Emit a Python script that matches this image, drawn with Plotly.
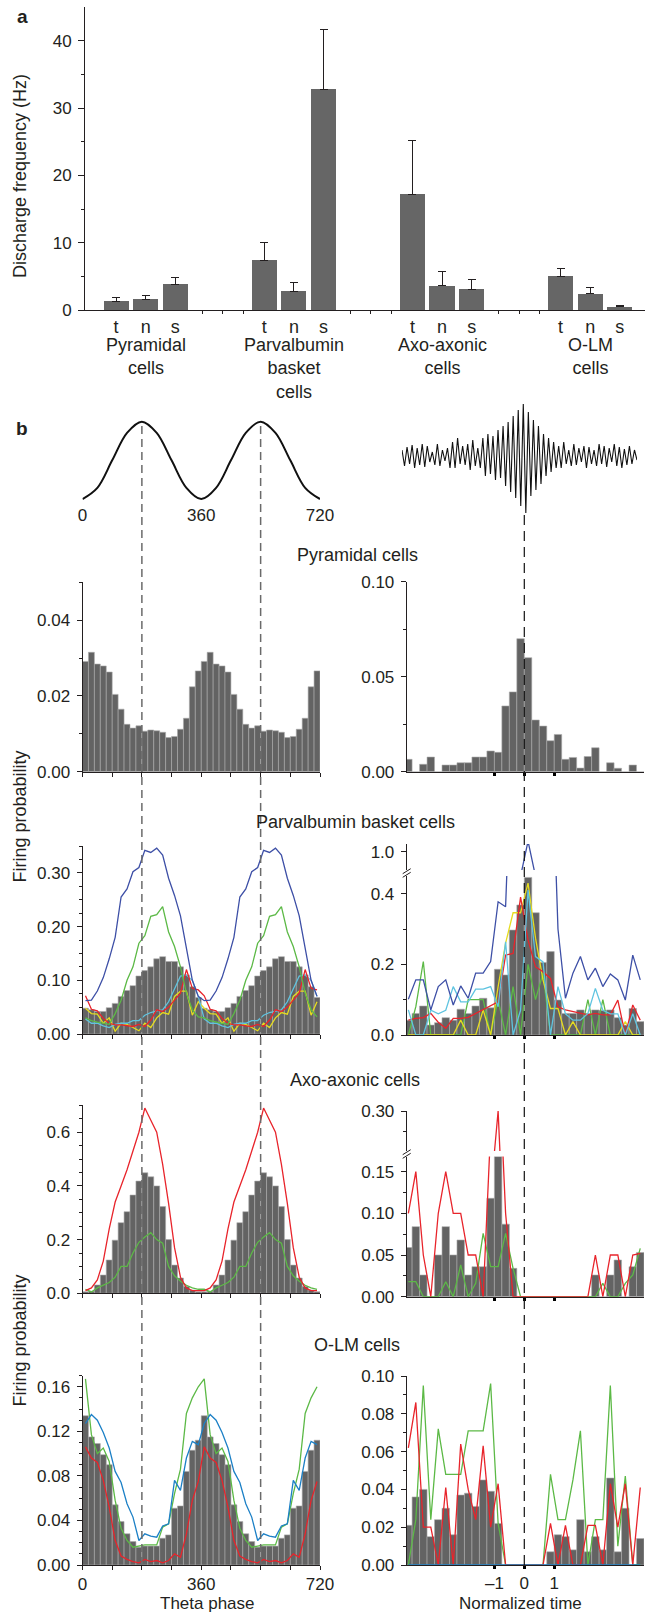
import numpy as np
import plotly.graph_objects as go

# ----------------------------- data -----------------------------
# panel a : discharge frequency (Hz) per cell type and brain state
cell_groups = ["Pyramidal<br>cells", "Parvalbumin<br>basket<br>cells",
               "Axo-axonic<br>cells", "O-LM<br>cells"]
brain_states = ["t", "n", "s"]
rate_mean = [1.3, 1.6, 3.8, 7.4, 2.8, 32.8, 17.2, 3.6, 3.1, 5.0, 2.4, 0.45]
rate_err_top = [1.9, 2.2, 4.8, 10.0, 4.1, 41.6, 25.1, 5.7, 4.6, 6.1, 3.3, 0.7]
rate_ticks = [0, 10, 20, 30, 40]

# panel b : schematic theta cycle (two cycles) and a ripple episode
theta_wave_phase = [0, 45, 90, 135, 180, 225, 270, 315, 360,
                    405, 450, 495, 540, 585, 630, 675, 720]
theta_wave = [-1, -0.71, 0, 0.71, 1, 0.71, 0, -0.71, -1,
              -0.71, 0, 0.71, 1, 0.71, 0, -0.71, -1]
theta_labels = ["0", "360", "720"]
ripple_trace = [6, -10, 9, -8, 11, -12, 8, -9, 12, -11, 10, -6, 4, -9, 12, -10, 6, -5,
                8, -12, 14, -12, 18, -8, 10, -9, 12, -14, 16, -10, 8, -12, 18, -20, 22, -18,
                20, -24, 26, -22, 30, -30, 34, -36, 40, -42, 46, -50, 52, -57, 44, -40, 36, -34,
                30, -28, 22, -20, 18, -16, 14, -12,
                10, -12, 14, -8, 6, -10, 12, -9, 8, -6, 10, -12, 9, -8, 6, -10, 12, -8,
                10, -11, 8, -6, 12, -10, 9, -12, 7, -9, 10, -8, 6, -4]

# theta-phase firing probability, one 360 deg cycle in 18 deg bins (plotted twice)
pyr_theta = [0.0291, 0.0315, 0.0284, 0.0279, 0.0263, 0.0204, 0.0165, 0.0125, 0.0115, 0.0121,
             0.0107, 0.0110, 0.0108, 0.0104, 0.0090, 0.0093, 0.0112, 0.0141, 0.0224, 0.0266]
pv_theta = [0.048, 0.045, 0.042, 0.042, 0.049, 0.057, 0.070, 0.081, 0.090, 0.108,
            0.118, 0.125, 0.140, 0.144, 0.135, 0.135, 0.125, 0.110, 0.088, 0.068]
pv_theta_blue = [0.062, 0.063, 0.080, 0.105, 0.140, 0.180, 0.255, 0.270, 0.302, 0.310,
                 0.342, 0.338, 0.346, 0.333, 0.290, 0.258, 0.220, 0.160, 0.100, 0.070]
pv_theta_green = [0.030, 0.025, 0.022, 0.020, 0.018, 0.038, 0.063, 0.100, 0.125, 0.169,
                  0.183, 0.219, 0.222, 0.237, 0.190, 0.163, 0.125, 0.076, 0.045, 0.032]
pv_theta_red = [0.071, 0.046, 0.043, 0.029, 0.020, 0.017, 0.017, 0.015, 0.014, 0.018,
                0.014, 0.026, 0.045, 0.042, 0.050, 0.063, 0.076, 0.120, 0.085, 0.082]
pv_theta_yellow = [0.048, 0.038, 0.037, 0.020, 0.030, 0.005, 0.020, 0.018, 0.012, 0.006,
                   0.020, 0.012, 0.030, 0.040, 0.037, 0.070, 0.080, 0.080, 0.035, 0.060]
pv_theta_cyan = [0.028, 0.020, 0.020, 0.015, 0.012, 0.018, 0.020, 0.020, 0.025, 0.025,
                 0.035, 0.040, 0.043, 0.045, 0.060, 0.085, 0.108, 0.110, 0.100, 0.070]
axo_theta = [0.006, 0.008, 0.031, 0.068, 0.124, 0.198, 0.263, 0.304, 0.366, 0.418,
             0.449, 0.434, 0.400, 0.323, 0.200, 0.105, 0.057, 0.025, 0.012, 0.006]
axo_theta_red = [0.010, 0.020, 0.050, 0.120, 0.240, 0.340, 0.400, 0.460, 0.530, 0.600,
                 0.690, 0.645, 0.600, 0.480, 0.335, 0.170, 0.060, 0.020, 0.010, 0.010]
axo_theta_green = [0.015, 0.005, 0.020, 0.030, 0.040, 0.060, 0.100, 0.100, 0.150, 0.190,
                   0.210, 0.226, 0.200, 0.187, 0.100, 0.065, 0.045, 0.030, 0.020, 0.015]
olm_theta = [0.134, 0.115, 0.109, 0.099, 0.090, 0.054, 0.039, 0.028, 0.021, 0.016,
             0.017, 0.017, 0.017, 0.024, 0.027, 0.051, 0.053, 0.084, 0.103, 0.112]
olm_theta_blue = [0.127, 0.135, 0.130, 0.119, 0.105, 0.084, 0.074, 0.055, 0.043, 0.022,
                  0.028, 0.026, 0.025, 0.035, 0.037, 0.076, 0.067, 0.096, 0.111, 0.108]
olm_theta_green = [0.167, 0.117, 0.100, 0.105, 0.093, 0.058, 0.033, 0.022, 0.016, 0.017,
                   0.018, 0.018, 0.018, 0.034, 0.037, 0.064, 0.086, 0.136, 0.150, 0.160]
olm_theta_red = [0.106, 0.096, 0.092, 0.076, 0.052, 0.022, 0.008, 0.005, 0.003, 0.002,
                 0.005, 0.003, 0.004, 0.002, 0.004, 0.010, 0.007, 0.028, 0.058, 0.075]

# ripple-related firing probability, normalized time -4..4 in 0.25 bins
pyr_ripple = [0.0065, 0, 0.0039, 0.0077, 0, 0.0035, 0.0035, 0.0047, 0.0047, 0.0077, 0.0077,
              0.0109, 0.0102, 0.0346, 0.042, 0.070, 0.060, 0.0272, 0.024, 0.0163, 0.0196,
              0.0065, 0.0075, 0.0019, 0.008, 0.0126, 0, 0.0047, 0.0018, 0, 0.0035, 0]
pv_ripple = [0.042, 0.061, 0.082, 0.028, 0.035, 0.049, 0.042, 0.073, 0.061, 0.082, 0.104,
             0.077, 0.186, 0.170, 0.297, 0.368, 0.446, 0.346, 0.205, 0.236, 0.099, 0.061,
             0.061, 0.071, 0.061, 0.071, 0.069, 0.071, 0.049, 0.028, 0.075, 0.038]
pv_ripple_blue = [0.101, 0.156, 0.156, 0.071, 0.137, 0.156, 0.085, 0.139, 0.104, 0.175, 0.175,
                  0.208, 0.377, 0.363, 0.93, 0.93, 1.03, 0.93, 0.92, 0.93, 0.30, 0.104,
                  0.175, 0.222, 0.156, 0.189, 0.137, 0.173, 0.156, 0.099, 0.226, 0.156]
pv_ripple_red = [0.042, 0.047, 0.049, 0.061, 0.036, 0.019, 0.047, 0.047, 0.050, 0.061, 0.073,
                 0.082, 0.094, 0.226, 0.231, 0.390, 0.269, 0.193, 0.179, 0.160, 0.080, 0.071,
                 0.066, 0.061, 0.057, 0.061, 0.057, 0.057, 0.099, 0.0, 0.085, 0.042]
pv_ripple_yellow = [0, 0, 0, 0, 0, 0, 0, 0.042, 0, 0, 0.071, 0, 0.137, 0.26, 0.346, 0.346,
                    0.43, 0.274, 0.156, 0.075, 0.075, 0, 0.038, 0, 0, 0, 0, 0, 0, 0.038, 0, 0]
pv_ripple_green = [0, 0.08, 0.208, 0, 0, 0, 0, 0, 0.1, 0.1, 0.1, 0, 0.1, 0, 0.137, 0,
                   0.2, 0.1, 0.175, 0, 0, 0, 0, 0, 0.1, 0, 0.1, 0, 0, 0, 0, 0]
pv_ripple_cyan = [0.071, 0, 0, 0.07, 0.06, 0.07, 0.137, 0.094, 0.094, 0.13, 0.13, 0.137,
                  0.08, 0.264, 0, 0.07, 0.41, 0.222, 0.207, 0, 0.137, 0.06, 0.042, 0.042,
                  0.061, 0.132, 0.07, 0.06, 0.06, 0, 0.06, 0]
axo_ripple = [0.059, 0.084, 0.026, 0.0, 0.050, 0.084, 0.050, 0.068, 0.026, 0.036, 0.036,
              0.118, 0.168, 0.087, 0.034, 0, 0, 0, 0, 0, 0, 0, 0, 0, 0, 0.026, 0, 0.026,
              0.044, 0, 0.036, 0.053]
axo_ripple_red = [0.10, 0.15, 0.05, 0, 0.10, 0.15, 0.10, 0.10, 0.05, 0.05, 0, 0.20, 0.30,
                  0.10, 0, 0, 0, 0, 0, 0, 0, 0, 0, 0, 0, 0.05, 0, 0.05, 0.05, 0, 0.05, 0.052]
axo_ripple_green = [0.018, 0.018, 0, 0, 0, 0.018, 0, 0.038, 0, 0.016, 0.076, 0.036, 0.036,
                    0.076, 0.034, 0, 0, 0, 0, 0, 0, 0, 0, 0, 0, 0, 0.016, 0, 0, 0.016,
                    0.026, 0.058]
olm_ripple = [0.021, 0.036, 0.040, 0.015, 0.024, 0.030, 0.016, 0.037, 0.038, 0.031, 0.045,
              0.039, 0.022, 0, 0, 0, 0, 0, 0, 0.007, 0.016, 0.015, 0.008, 0.024, 0.007,
              0.015, 0.008, 0.046, 0.007, 0.030, 0, 0.014]
olm_ripple_red = [0.062, 0.086, 0.020, 0.020, 0, 0.041, 0, 0.064, 0.040, 0.024, 0.063,
                  0.020, 0.043, 0, 0, 0, 0, 0, 0, 0.022, 0, 0.021, 0, 0, 0.021, 0.021, 0,
                  0.043, 0.020, 0.043, 0, 0.041]
olm_ripple_green = [0, 0.024, 0.095, 0.024, 0.072, 0.048, 0.048, 0.048, 0.071, 0.071, 0.071,
                    0.096, 0.022, 0, 0, 0, 0, 0, 0, 0.048, 0.024, 0.024, 0.045, 0.071, 0,
                    0.024, 0.024, 0.095, 0.010, 0.047, 0, 0]
olm_ripple_blue = [0.0] * 32

theta_tick_labels = ["0", "", "", "", "360", "", "", "", "720"]
ripple_tick_labels = ["\u20131", "0", "1"]

# ----------------------------- style -----------------------------
W, H = 646, 1613
FONT = "Liberation Sans, Arial, Helvetica, sans-serif"
TXT = "#231f20"
AX = "#231f20"
BAR = "#636363"
EDGE = "#ababab"
C_BLUE = "#3d4fa6"
C_GREEN = "#5cb946"
C_RED = "#e8242b"
C_YELLOW = "#e6dc1f"
C_CYAN = "#5fc4e0"
C_OLM_BLUE = "#1c80c6"

TX_L = (82.5, 320.0)      # left column pixel span
TX_R = (406.7, 644.0)     # right column pixel span
R_RANGE = [-3.93, 4.0]


def fx(p):
    return p / W


def fy(p):
    return 1 - p / H


fig = go.Figure()
lay = dict(width=W, height=H, margin=dict(l=0, r=0, t=0, b=0),
           paper_bgcolor="white", plot_bgcolor="white", showlegend=False,
           template="none", font=dict(family=FONT, size=17, color=TXT),
           bargap=0)
n_axes = [0]


def new_axes(xpx, ypx, xrange, yrange, xa=None, ya=None):
    n_axes[0] += 1
    n = n_axes[0]
    s = "" if n == 1 else str(n)
    base = dict(showgrid=False, zeroline=False, showline=False, showticklabels=False,
                ticks="", fixedrange=True)
    xd = dict(base, domain=[fx(xpx[0]), fx(xpx[1])], range=xrange, anchor="y" + s)
    yd = dict(base, domain=[fy(ypx[0]), fy(ypx[1])], range=yrange, anchor="x" + s)
    if xa:
        xd.update(xa)
    if ya:
        yd.update(ya)
    lay["xaxis" + s] = xd
    lay["yaxis" + s] = yd
    return "x" + s, "y" + s


def y_style(major, labels, minor, ticklen=5):
    d = dict(showline=True, linecolor=AX, linewidth=1, ticks="outside", ticklen=ticklen,
             tickwidth=1, tickcolor=AX, tickmode="array", tickvals=major, ticktext=labels,
             showticklabels=True, tickfont=dict(size=17, color=TXT, family=FONT),
             ticklabelstandoff=3)
    if minor:
        d["minor"] = dict(tickmode="array", tickvals=minor, ticks="outside", ticklen=3,
                          tickwidth=1, tickcolor=AX)
    return d


def theta_x(labels=False):
    return dict(showline=True, linecolor=AX, linewidth=1, ticks="outside", ticklen=4,
                tickwidth=1, tickcolor=AX, tickmode="array",
                tickvals=list(range(0, 721, 90)), ticktext=theta_tick_labels,
                showticklabels=labels, tickfont=dict(size=17, color=TXT, family=FONT))


def ripple_x(labels=False):
    return dict(showline=True, linecolor=AX, linewidth=1, ticks="outside", ticklen=3,
                tickwidth=3, tickcolor="#000", tickmode="array", tickvals=[-1, 0, 1],
                ticktext=ripple_tick_labels, showticklabels=labels,
                tickfont=dict(size=17, color=TXT, family=FONT))


theta_centres = np.arange(9, 720, 18)
ripple_centres = np.arange(-3.875, 4.0, 0.25)


def bars(x, y, xr, yr, w):
    fig.add_trace(go.Bar(x=x, y=y, width=w, marker=dict(color=BAR, line=dict(color=EDGE, width=0.6)),
                         xaxis=xr, yaxis=yr, hoverinfo="skip"))


def line(x, y, color, xr, yr, width=1.3):
    fig.add_trace(go.Scatter(x=x, y=y, mode="lines", line=dict(color=color, width=width),
                             xaxis=xr, yaxis=yr, hoverinfo="skip"))


# ----------------------------- panel a -----------------------------
bar_pos = [g * 5 + s for g in range(len(cell_groups)) for s in range(len(brain_states))]
gap_ticks = [g * 5 + d for g in range(3) for d in (2.9, 3.6, 4.3)]
xa_a, ya_a = new_axes(
    (85, 645), (310, 7), [-1.05, 17.85], [0, 45],
    xa=dict(showline=True, linecolor=AX, linewidth=1, tickmode="array", tickvals=bar_pos,
            ticktext=brain_states * len(cell_groups), showticklabels=True,
            tickfont=dict(size=18, color=TXT, family=FONT),
            minor=dict(tickmode="array", tickvals=gap_ticks, ticks="outside", ticklen=3,
                       tickwidth=1, tickcolor=AX)),
    ya=y_style(rate_ticks, [str(v) for v in rate_ticks], [5, 15, 25, 35], ticklen=6))
fig.add_trace(go.Bar(
    x=bar_pos, y=rate_mean, width=0.85, marker=dict(color="#666666", line=dict(width=0)),
    error_y=dict(type="data", symmetric=False,
                 array=[u - m for u, m in zip(rate_err_top, rate_mean)],
                 arrayminus=[0] * len(rate_mean), color=AX, thickness=1, width=4),
    xaxis=xa_a, yaxis=ya_a, hoverinfo="skip"))

# ----------------------------- panel b top schematics -----------------------------
xs, ys = new_axes(TX_L, (502.9, 417.8), [0, 720], [-1.1, 1.1],
                  xa=dict(showticklabels=True, tickmode="array", tickvals=[0, 360, 720],
                          ticktext=theta_labels, tickfont=dict(size=17, color=TXT, family=FONT)))
fig.add_trace(go.Scatter(x=theta_wave_phase, y=theta_wave, mode="lines",
                         line=dict(color="#111", width=2, shape="spline", smoothing=1.0),
                         xaxis=xs, yaxis=ys, hoverinfo="skip"))

xrp, yrp = new_axes((402, 637), (514, 402), [0, len(ripple_trace) - 1], [-58, 54])
fig.add_trace(go.Scatter(x=list(range(len(ripple_trace))), y=ripple_trace, mode="lines",
                         line=dict(color="#111", width=1.1), xaxis=xrp, yaxis=yrp,
                         hoverinfo="skip"))

# ----------------------------- row 1 : pyramidal -----------------------------
x1, y1 = new_axes(TX_L, (771.7, 582.2), [0, 720], [0, 0.05], xa=theta_x(),
                  ya=y_style([0, 0.02, 0.04], ["0.00", "0.02", "0.04"], [0.01, 0.03, 0.05]))
bars(theta_centres, pyr_theta * 2, x1, y1, 18)

x2, y2 = new_axes(TX_R, (771.7, 581.7), R_RANGE, [0, 0.10], xa=ripple_x(),
                  ya=y_style([0, 0.05, 0.10], ["0.00", "0.05", "0.10"], [0.025, 0.075]))
bars(ripple_centres, pyr_ripple, x2, y2, 0.25)

# ----------------------------- row 2 : parvalbumin basket -----------------------------
x3, y3 = new_axes(TX_L, (1034, 846), [0, 720], [0, 0.35], xa=theta_x(),
                  ya=y_style([0, 0.1, 0.2, 0.3], ["0.00", "0.10", "0.20", "0.30"],
                             [0.025, 0.05, 0.075, 0.125, 0.15, 0.175, 0.225, 0.25, 0.275,
                              0.325, 0.35]))
bars(theta_centres, pv_theta * 2, x3, y3, 18)
for vals, col in [(pv_theta_yellow, C_YELLOW), (pv_theta_cyan, C_CYAN), (pv_theta_red, C_RED),
                  (pv_theta_green, C_GREEN), (pv_theta_blue, C_BLUE)]:
    line(theta_centres, vals * 2, col, x3, y3)

x4, y4 = new_axes(TX_R, (1035, 876), R_RANGE, [0, 0.45], xa=ripple_x(),
                  ya=y_style([0, 0.2, 0.4], ["0.0", "0.2", "0.4"], [0.1, 0.3]))
x4u, y4u = new_axes(TX_R, (870, 844), R_RANGE, [0.948, 1.022],
                    ya=y_style([1.0], ["1.0"], []))
bars(ripple_centres, pv_ripple, x4, y4, 0.25)
for vals, col in [(pv_ripple_green, C_GREEN), (pv_ripple_yellow, C_YELLOW),
                  (pv_ripple_red, C_RED), (pv_ripple_cyan, C_CYAN), (pv_ripple_blue, C_BLUE)]:
    line(ripple_centres, vals, col, x4, y4)
line(ripple_centres, pv_ripple_blue, C_BLUE, x4u, y4u)

# ----------------------------- row 3 : axo-axonic -----------------------------
x5, y5 = new_axes(TX_L, (1293.3, 1105.4), [0, 720], [0, 0.7], xa=theta_x(),
                  ya=y_style([0, 0.2, 0.4, 0.6], ["0.0", "0.2", "0.4", "0.6"],
                             [0.05, 0.1, 0.15, 0.25, 0.3, 0.35, 0.45, 0.5, 0.55, 0.65, 0.7]))
bars(theta_centres, axo_theta * 2, x5, y5, 18)
line(theta_centres, axo_theta_green * 2, C_GREEN, x5, y5)
line(theta_centres, axo_theta_red * 2, C_RED, x5, y5)

x6, y6 = new_axes(TX_R, (1296.7, 1156.6), R_RANGE, [0, 0.168], xa=ripple_x(),
                  ya=y_style([0, 0.05, 0.10, 0.15], ["0.00", "0.05", "0.10", "0.15"],
                             [0.025, 0.075, 0.125]))
x6u, y6u = new_axes(TX_R, (1151, 1111), R_RANGE, [0.252, 0.30],
                    ya=y_style([0.30], ["0.30"], [0.275]))
bars(ripple_centres, axo_ripple, x6, y6, 0.25)
line(ripple_centres, axo_ripple_green, C_GREEN, x6, y6)
line(ripple_centres, axo_ripple_red, C_RED, x6, y6)
line(ripple_centres, axo_ripple_red, C_RED, x6u, y6u)

# ----------------------------- row 4 : O-LM -----------------------------
olm_minor = [round(0.01 * i, 2) for i in range(1, 18) if i % 4 != 0]
x7, y7 = new_axes(TX_L, (1565, 1375.6), [0, 720], [0, 0.17], xa=theta_x(True),
                  ya=y_style([0, 0.04, 0.08, 0.12, 0.16],
                             ["0.00", "0.04", "0.08", "0.12", "0.16"], olm_minor))
bars(theta_centres, olm_theta * 2, x7, y7, 18)
line(theta_centres, olm_theta_red * 2, C_RED, x7, y7)
line(theta_centres, olm_theta_green * 2, C_GREEN, x7, y7)
line(theta_centres, olm_theta_blue * 2, C_OLM_BLUE, x7, y7)

x8, y8 = new_axes(TX_R, (1565, 1376), R_RANGE, [0, 0.10], xa=ripple_x(True),
                  ya=y_style([0, 0.02, 0.04, 0.06, 0.08, 0.10],
                             ["0.00", "0.02", "0.04", "0.06", "0.08", "0.10"],
                             [0.01, 0.03, 0.05, 0.07, 0.09]))
bars(ripple_centres, olm_ripple, x8, y8, 0.25)
line(ripple_centres, olm_ripple_green, C_GREEN, x8, y8)
line(ripple_centres, olm_ripple_red, C_RED, x8, y8)
line(ripple_centres, olm_ripple_blue, C_OLM_BLUE, x8, y8)

# ----------------------------- shapes -----------------------------
shapes = []
for ph in (180, 540):
    shapes.append(dict(type="line", xref=xs, yref="paper", x0=ph, x1=ph,
                       y0=fy(1565), y1=fy(421.7), layer="above",
                       line=dict(color="#6a6a6a", width=1.5, dash="8px,5px")))
shapes.append(dict(type="line", xref=x2, yref="paper", x0=0, x1=0,
                   y0=fy(1565), y1=fy(512), layer="above",
                   line=dict(color="#111", width=1.2, dash="10px,6px")))
for yb in (873, 1154):
    for off in (-1.8, 1.8):
        shapes.append(dict(type="line", xref="paper", yref="paper",
                           x0=fx(TX_R[0] - 4), x1=fx(TX_R[0] + 4),
                           y0=fy(yb + off + 2.5), y1=fy(yb + off - 2.5),
                           line=dict(color=AX, width=1)))
lay["shapes"] = shapes

# ----------------------------- annotations -----------------------------
ann = []


def text(x, y, s, size=18, angle=0, bold=False):
    ann.append(dict(x=fx(x), y=fy(y), xref="paper", yref="paper",
                    text=("<b>%s</b>" % s) if bold else s, showarrow=False,
                    textangle=angle, font=dict(size=size, color=TXT, family=FONT),
                    xanchor="center", yanchor="middle", borderpad=0))


text(22, 17, "a", size=19, bold=True)
text(22, 429, "b", size=19, bold=True)
text(20, 176, "Discharge frequency (Hz)", angle=-90)
for g, name in enumerate(cell_groups):
    ann.append(dict(x=g * 5 + 1, y=fy(333), xref=xa_a, yref="paper", text=name,
                    showarrow=False, font=dict(size=18, color=TXT, family=FONT),
                    xanchor="center", yanchor="top", align="center"))
text(357, 555, "Pyramidal cells")
text(355, 822, "Parvalbumin basket cells")
text(355, 1080, "Axo-axonic cells")
text(357, 1345, "O-LM cells")
text(19.5, 817, "Firing probability", angle=-90)
text(19.5, 1341, "Firing probability", angle=-90)
text(207, 1603, "Theta phase", size=17)
text(520, 1603, "Normalized time", size=17)
lay["annotations"] = ann

fig.update_layout(**lay)
fig.write_html("out.html", config={"displayModeBar": False, "staticPlot": True},
               post_script="document.body.style.margin='0';"
                           "document.body.style.padding='0';"
                           "document.body.style.overflow='hidden';")
